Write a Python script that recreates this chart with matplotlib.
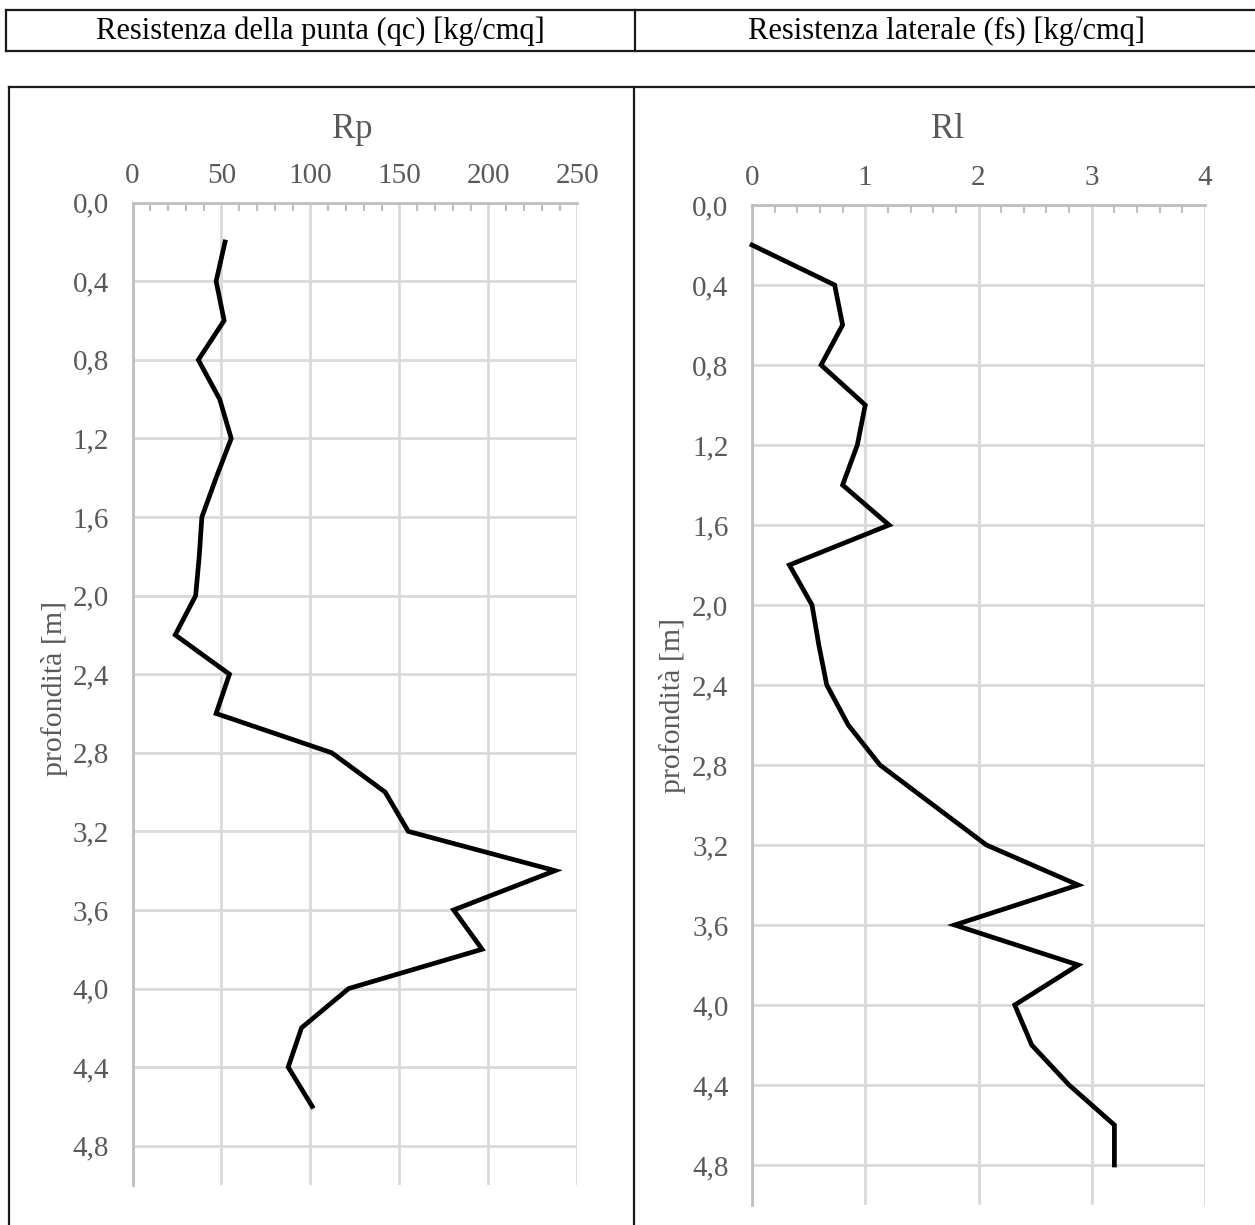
import numpy as np
import matplotlib
matplotlib.use("Agg")
import matplotlib.pyplot as plt
from matplotlib.lines import Line2D
from matplotlib.ticker import MultipleLocator, FuncFormatter

# ── Data ──────────────────────────────────────────────────────────
depth_rp = [0.2, 0.4, 0.6, 0.8, 1.0, 1.2, 1.4, 1.6, 1.8, 2.0, 2.2, 2.4,
            2.6, 2.8, 3.0, 3.2, 3.4, 3.6, 3.8, 4.0, 4.2, 4.4, 4.6]
rp = [52, 47, 51.5, 37, 49, 55.5, 47, 39, 37.5, 35.5, 24, 54.5,
      47, 112, 142, 155, 237.5, 180.5, 196.5, 121.5, 95, 87.5, 101]

depth_rl = [0.2, 0.4, 0.6, 0.8, 1.0, 1.2, 1.4, 1.6, 1.8, 2.0, 2.2, 2.4,
            2.6, 2.8, 3.0, 3.2, 3.4, 3.6, 3.8, 4.0, 4.2, 4.4, 4.6, 4.8]
rl = [0.0, 0.73, 0.80, 0.61, 1.0, 0.93, 0.80, 1.21, 0.33, 0.53, 0.59, 0.66,
      0.85, 1.13, 1.60, 2.07, 2.88, 1.79, 2.88, 2.32, 2.47, 2.80, 3.20, 3.20]

depth_ticks = [0.0, 0.4, 0.8, 1.2, 1.6, 2.0, 2.4, 2.8, 3.2, 3.6, 4.0, 4.4, 4.8]

header_left = "Resistenza della punta (qc) [kg/cmq]"
header_right = "Resistenza laterale (fs) [kg/cmq]"

# ── Figure setup ──────────────────────────────────────────────────
W, H = 1255, 1225
plt.rcParams["font.family"] = ["Liberation Serif", "DejaVu Serif"]
fig = plt.figure(figsize=(W / 100, H / 100), dpi=100)
fig.patch.set_facecolor("white")

GRAY = "#595959"
GRID = "#d9d9d9"
AXIS = "#bfbfbf"


def rect(x0, y0, x1, y1):
    # pixel box (top-left origin) -> figure fraction rect
    return [x0 / W, 1 - y1 / H, (x1 - x0) / W, (y1 - y0) / H]


def hline(x0, x1, y, **kw):
    fig.add_artist(Line2D([x0 / W, x1 / W], [1 - y / H, 1 - y / H], **kw))


def vline(x, y0, y1, **kw):
    fig.add_artist(Line2D([x / W, x / W], [1 - y0 / H, 1 - y1 / H], **kw))


# ── Table borders ─────────────────────────────────────────────────
bk = dict(color="#1a1a1a", lw=1.6)
hline(6, W + 5, 10, **bk)
hline(6, W + 5, 51, **bk)
vline(6, 10, 51, **bk)
vline(635, 10, 51, **bk)
hline(9, W + 5, 87, **bk)
vline(9, 87, H + 5, **bk)
vline(634, 87, H + 5, **bk)

fig.text(320 / W, 1 - 31 / H, header_left, ha="center", va="center",
         fontsize=22, color="black")
fig.text(947 / W, 1 - 31 / H, header_right, ha="center", va="center",
         fontsize=22, color="black")


# ── Panels ────────────────────────────────────────────────────────
def style_axis(ax, xmax, xmajor, xminor):
    ax.set_xlim(0, xmax)
    ax.set_ylim(5.0, 0.0)
    ax.xaxis.tick_top()
    ax.xaxis.set_major_locator(MultipleLocator(xmajor))
    ax.xaxis.set_minor_locator(MultipleLocator(xminor))
    ax.set_yticks(depth_ticks)
    ax.yaxis.set_major_formatter(FuncFormatter(lambda v, p: f"{v:.1f}".replace(".", ",")))
    ax.tick_params(axis="x", which="major", length=0, pad=10,
                   labelsize=21, labelcolor=GRAY)
    ax.tick_params(axis="x", which="minor", length=6, width=1.5,
                   direction="in", color=AXIS, top=True, bottom=False)
    ax.tick_params(axis="y", which="major", length=0, pad=17,
                   labelsize=21, labelcolor=GRAY)
    ax.grid(True, which="major", color=GRID, lw=2)
    ax.set_axisbelow(True)
    for s in ["bottom", "right"]:
        ax.spines[s].set_visible(False)
    for s in ["top", "left"]:
        ax.spines[s].set_color(AXIS)
        ax.spines[s].set_linewidth(2)


ax1 = fig.add_axes(rect(132.5, 202.7, 577.3, 1185))
style_axis(ax1, 250, 50, 10)
ax1.plot(rp, depth_rp, color="black", lw=3.4, solid_joinstyle="miter",
         clip_on=False, zorder=5)
fig.text(352 / W, 1 - 130 / H, "Rp", ha="center", va="center",
         fontsize=25, color=GRAY)
fig.text(55 / W, 1 - 688 / H, "profondità [m]", ha="center", va="center",
         rotation=90, fontsize=21.5, color=GRAY)

ax2 = fig.add_axes(rect(752, 205, 1205, 1205))
style_axis(ax2, 4, 1, 0.2)
ax2.plot(rl, depth_rl, color="black", lw=3.4, solid_joinstyle="miter",
         clip_on=False, zorder=5)
fig.text(947 / W, 1 - 130 / H, "Rl", ha="center", va="center",
         fontsize=25, color=GRAY)
fig.text(672 / W, 1 - 705 / H, "profondità [m]", ha="center", va="center",
         rotation=90, fontsize=21.5, color=GRAY)

fig.savefig("out.png", dpi=100, facecolor="white")
